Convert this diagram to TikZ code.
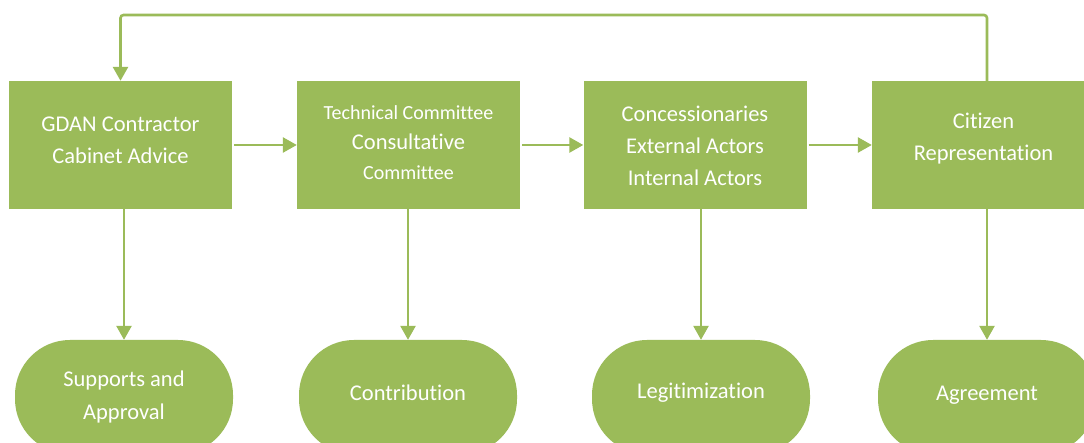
\documentclass[tikz,border=0pt]{standalone}
\usepackage{fontspec}
\setmainfont{Carlito}[Ligatures={NoCommon}]
\usetikzlibrary{arrows.meta}
\definecolor{olive}{HTML}{9BBB59}
\begin{document}
\begin{tikzpicture}[x=1pt,y=-1pt,
  box/.style={fill=olive, draw=none, minimum width=223pt, minimum height=128pt, inner sep=0pt},
  pill/.style={fill=olive, draw=none, minimum width=218pt, minimum height=114pt, inner sep=0pt, rounded corners=55pt},
  lbl/.style={text=white, anchor=base, inner sep=0pt, font=\fontsize{22.5}{26}\selectfont},
  sml/.style={lbl, font=\fontsize{20}{24}\selectfont},
  link/.style={draw=olive, line width=2.6pt, -{Triangle[length=14pt,width=15pt]}},
]
\clip (0,0) rectangle (1084,443);
\fill[white] (0,0) rectangle (1084,443);

% process boxes
\node[box] (b1) at (120.5,145) {};
\node[box] (b2) at (408.5,145) {};
\node[box] (b3) at (695,145) {};
\node[box] (b4) at (983.5,145) {};

% outcome terminators
\node[pill] (p1) at (124,397) {};
\node[pill] (p2) at (408,397) {};
\node[pill] (p3) at (701,397) {};
\node[pill] (p4) at (987,397) {};

% box labels
\node[lbl] (t1a) at (120.5,132) {GDAN Contractor};
\node[lbl] (t1b) at (120.5,164) {Cabinet Advice};
\node[sml] (t2a) at (408.5,119.5) {Technical Committee};
\node[lbl] (t2b) at (408.5,149.5) {Consultative};
\node[sml] (t2c) at (408.5,179.5) {Committee};
\node[lbl] (t3a) at (695,122) {Concessionaries};
\node[lbl] (t3b) at (695,154) {External Actors};
\node[lbl] (t3c) at (695,186) {Internal Actors};
\node[lbl] (t4a) at (983.5,129) {Citizen};
\node[lbl] (t4b) at (983.5,161) {Representation};

% outcome labels
\node[lbl] (u1a) at (124,387) {Supports and};
\node[lbl] (u1b) at (124,419) {Approval};
\node[lbl] (u2) at (408,400) {Contribution};
\node[lbl] (u3) at (701,399) {Legitimization};
\node[lbl] (u4) at (987,400) {Agreement};

% horizontal flow
\draw[link, shorten <=2pt] (b1.east) -- (b2.west);
\draw[link, shorten <=2pt] (b2.east) -- (b3.west);
\draw[link, shorten <=2pt] (b3.east) -- (b4.west);

% downward links to outcomes
\draw[link] (b1.south -| p1.north) -- (p1.north);
\draw[link] (b2.south -| p2.north) -- (p2.north);
\draw[link] (b3.south -| p3.north) -- (p3.north);
\draw[link] (b4.south -| p4.north) -- (p4.north);

% feedback loop
\coordinate (top) at (0,15);
\draw[link, rounded corners=3pt] (b4.north -| p4.north) |- (b1.north |- top) -- (b1.north);
\end{tikzpicture}
\end{document}
